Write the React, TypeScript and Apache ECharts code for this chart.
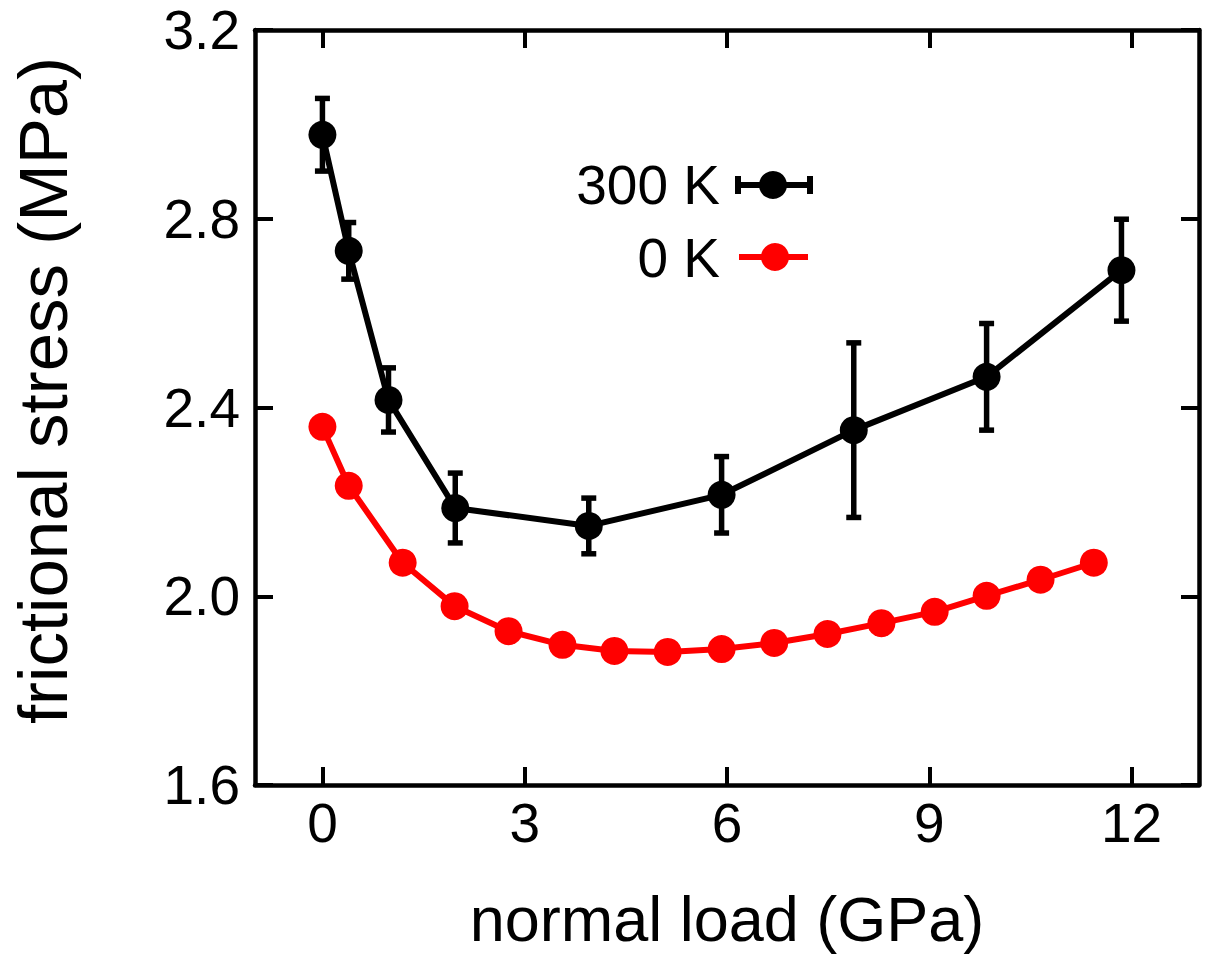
import React, { useEffect, useRef } from "react";
import * as echarts from "echarts";

// 300 K series (with error bars)
const loads300 = [0, 0.39, 0.98, 1.97, 3.95, 5.92, 7.88, 9.85, 11.85];
const stress300 = [2.978, 2.732, 2.416, 2.187, 2.149, 2.215, 2.352, 2.465, 2.691];
const err300 = [0.077, 0.06, 0.068, 0.074, 0.059, 0.081, 0.185, 0.113, 0.108];

// 0 K series
const loads0 = [0, 0.39, 1.19, 1.96, 2.76, 3.56, 4.33, 5.12, 5.92, 6.7, 7.49, 8.29, 9.08, 9.85, 10.65, 11.44];
const stress0 = [2.359, 2.234, 2.071, 1.979, 1.926, 1.897, 1.884, 1.882, 1.888, 1.901, 1.92, 1.943, 1.967, 2.001, 2.035, 2.071];

const xTicks = [0, 3, 6, 9, 12];
const xLabel = "normal load (GPa)";
const yLabel = "frictional stress (MPa)";
const legendNames = ["300 K", "0 K"];

const FONT = '"Liberation Sans", Arial, Helvetica, sans-serif';

export default function App() {
  const ref = useRef<HTMLDivElement>(null);
  useEffect(() => {
    if (!ref.current) return;
    const chart = echarts.init(ref.current, null, { renderer: "svg" });
    const axisLine = { show: true, onZero: false, lineStyle: { color: "#000", width: 4.5 } };
    const tick = { show: true, inside: true, length: 18, lineStyle: { color: "#000", width: 4 } };
    const option: any = {
      animation: false,
      backgroundColor: "#fff",
      grid: { left: 255, right: 6, top: 30, bottom: 173, containLabel: false },
      xAxis: [
        {
          type: "value",
          min: -1,
          max: 13,
          position: "bottom",
          axisLine,
          axisTick: { ...tick, customValues: xTicks },
          axisLabel: {
            customValues: xTicks,
            fontSize: 55,
            color: "#000",
            fontFamily: FONT,
            margin: 10,
          },
          splitLine: { show: false },
          name: xLabel,
          nameLocation: "middle",
          nameGap: 102,
          nameTextStyle: { fontSize: 63, color: "#000", fontFamily: FONT },
        },
        {
          type: "value",
          min: -1,
          max: 13,
          position: "top",
          axisLine,
          axisTick: { ...tick, customValues: xTicks },
          axisLabel: { show: false },
          splitLine: { show: false },
        },
      ],
      yAxis: [
        {
          type: "value",
          min: 1.6,
          max: 3.2,
          interval: 0.4,
          position: "left",
          axisLine,
          axisTick: tick,
          axisLabel: {
            fontSize: 55,
            color: "#000",
            fontFamily: FONT,
            margin: 15,
            showMinLabel: true,
            showMaxLabel: true,
            formatter: (v: number) => v.toFixed(1),
          },
          splitLine: { show: false },
          name: yLabel,
          nameLocation: "middle",
          nameGap: 177,
          nameTextStyle: { fontSize: 69, color: "#000", fontFamily: FONT, padding: [0, 0, 0, 34] },
        },
        {
          type: "value",
          min: 1.6,
          max: 3.2,
          interval: 0.4,
          position: "right",
          axisLine,
          axisTick: tick,
          axisLabel: { show: false },
          splitLine: { show: false },
        },
      ],
      series: [
        {
          type: "custom",
          name: legendNames[0] + " error",
          z: 2,
          renderItem: (_p: any, api: any) => {
            const x = api.value(0);
            const lo = api.coord([x, api.value(1)]);
            const hi = api.coord([x, api.value(2)]);
            const cw = 7.5;
            const style = { stroke: "#000", lineWidth: 5.5 };
            return {
              type: "group",
              children: [
                { type: "line", shape: { x1: lo[0], y1: lo[1], x2: hi[0], y2: hi[1] }, style },
                { type: "line", shape: { x1: lo[0] - cw, y1: lo[1], x2: lo[0] + cw, y2: lo[1] }, style },
                { type: "line", shape: { x1: hi[0] - cw, y1: hi[1], x2: hi[0] + cw, y2: hi[1] }, style },
              ],
            };
          },
          encode: { x: 0, y: [1, 2] },
          data: loads300.map((x, i) => [x, stress300[i] - err300[i], stress300[i] + err300[i]]),
        },
        {
          type: "line",
          name: legendNames[0],
          z: 3,
          data: loads300.map((x, i) => [x, stress300[i]]),
          symbol: "circle",
          symbolSize: 28,
          lineStyle: { color: "#000", width: 6 },
          itemStyle: { color: "#000" },
        },
        {
          type: "line",
          name: legendNames[1],
          z: 3,
          data: loads0.map((x, i) => [x, stress0[i]]),
          symbol: "circle",
          symbolSize: 28,
          lineStyle: { color: "#ff0000", width: 6 },
          itemStyle: { color: "#ff0000" },
        },
      ],
      graphic: [
        {
          type: "text",
          x: 720,
          y: 185,
          style: { text: legendNames[0], fill: "#000", fontSize: 55, fontFamily: FONT, align: "right", verticalAlign: "middle" },
        },
        { type: "line", shape: { x1: 738, y1: 185, x2: 810, y2: 185 }, style: { stroke: "#000", lineWidth: 6 } },
        { type: "line", shape: { x1: 738, y1: 176, x2: 738, y2: 194 }, style: { stroke: "#000", lineWidth: 6 } },
        { type: "line", shape: { x1: 810, y1: 176, x2: 810, y2: 194 }, style: { stroke: "#000", lineWidth: 6 } },
        { type: "circle", shape: { cx: 773, cy: 185, r: 14 }, style: { fill: "#000" } },
        {
          type: "text",
          x: 720,
          y: 258,
          style: { text: legendNames[1], fill: "#000", fontSize: 55, fontFamily: FONT, align: "right", verticalAlign: "middle" },
        },
        { type: "line", shape: { x1: 739, y1: 257, x2: 808, y2: 257 }, style: { stroke: "#ff0000", lineWidth: 6 } },
        { type: "circle", shape: { cx: 775, cy: 257, r: 14 }, style: { fill: "#ff0000" } },
      ],
    };
    chart.setOption(option);
    return () => chart.dispose();
  }, []);
  return (
    <div
      ref={ref}
      style={{ position: "fixed", left: 0, top: 0, width: 1205, height: 958, background: "#fff" }}
    />
  );
}
